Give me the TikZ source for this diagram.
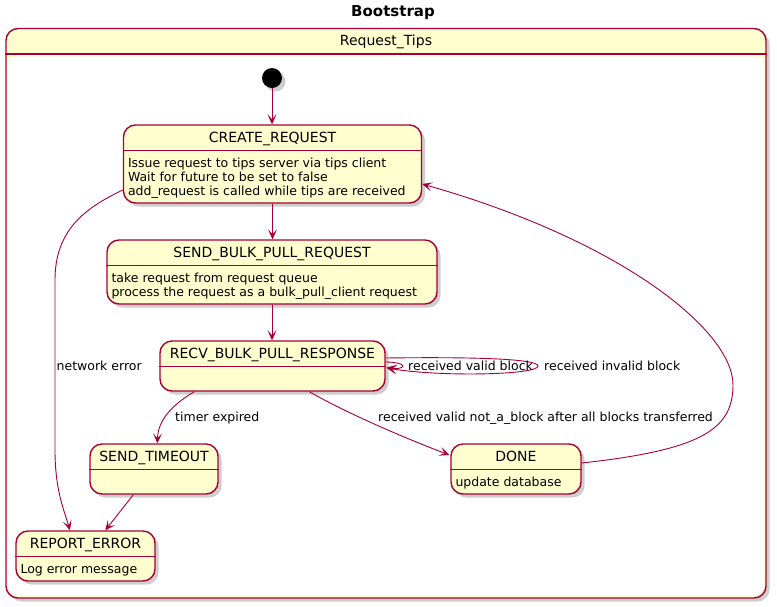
\documentclass[tikz,border=0pt]{standalone}
\usepackage{fontspec}
\setmainfont{DejaVu Sans}
\usetikzlibrary{arrows.meta,shadows,calc}
\definecolor{pcol}{HTML}{A80036}
\definecolor{pfill}{HTML}{FEFECE}
\tikzset{
  pshadow/.style={drop shadow={shadow xshift=3.5pt,shadow yshift=-3.5pt,fill=black!55,opacity=0.35}},
  statebox/.style={draw=pcol,fill=pfill,line width=1.4pt,rounded corners=12pt,inner sep=0pt,pshadow},
  stitle/.style={font=\fontsize{14}{16}\selectfont,inner sep=0pt,anchor=base},
  sbody/.style={font=\fontsize{12.5}{14}\selectfont,inner sep=0pt,align=left,anchor=base west},
  elabel/.style={font=\fontsize{12.5}{14}\selectfont,inner sep=0pt,anchor=base west},
  divider/.style={draw=pcol,line width=1.4pt},
  conn/.style={draw=pcol,line width=0.9pt,-{Stealth[length=10pt,width=9pt,inset=5pt]}},
}
\begin{document}
\begin{tikzpicture}[x=1pt,y=-1pt]
\useasboundingbox (0,0) rectangle (777,606);
% title
\node[font=\fontsize{15}{18}\selectfont\bfseries,inner sep=0pt,anchor=base] (title) at (393,16.5) {Bootstrap};
% container
\node[draw=pcol,fill=pfill,line width=1.4pt,rounded corners=12pt,inner sep=0pt,pshadow,
      minimum width=760pt,minimum height=569.5pt] (tips) at (386,313.25) {};
\fill[white,rounded corners=10pt] ($(tips.north west)+(2.5,28.5)$) rectangle ($(tips.south east)+(-2.5,-2.5)$);
\draw[divider] ($(tips.north west)+(0,26)$) -- ($(tips.north east)+(0,26)$);
\node[stitle] (tipsT) at ($(tips.north)+(0,18)$) {Request\_Tips};
% initial
\node[circle,fill=black,minimum size=20pt,inner sep=0pt,pshadow] (init) at (272,78) {};
% states
\node[statebox,minimum width=298pt,minimum height=78pt] (create) at (272.5,164) {};
\node[statebox,minimum width=330pt,minimum height=64pt] (sendreq) at (272,272) {};
\node[statebox,minimum width=225pt,minimum height=50pt] (recv) at (272.5,366) {};
\node[statebox,minimum width=128pt,minimum height=50pt] (timeout) at (154,469) {};
\node[statebox,minimum width=130pt,minimum height=50pt] (done) at (516,469) {};
\node[statebox,minimum width=139pt,minimum height=50pt] (report) at (85.5,556) {};
% dividers
\foreach \s in {create,sendreq,recv,timeout,done,report}{
  \draw[divider] ($(\s.north west)+(0,26)$) -- ($(\s.north east)+(0,26)$);
}
% titles
\node[stitle] (createT) at ($(create.north)+(0,18)$) {CREATE\_REQUEST};
\node[stitle] (sendreqT) at ($(sendreq.north)+(0,18)$) {SEND\_BULK\_PULL\_REQUEST};
\node[stitle] (recvT) at ($(recv.north)+(0,18)$) {RECV\_BULK\_PULL\_RESPONSE};
\node[stitle] (timeoutT) at ($(timeout.north)+(0,18)$) {SEND\_TIMEOUT};
\node[stitle] (doneT) at ($(done.north)+(0,18)$) {DONE};
\node[stitle] (reportT) at ($(report.north)+(0,18)$) {REPORT\_ERROR};
% bodies (base anchor = baseline of last line)
\node[sbody] (createB) at ($(create.north west)+(5,71)$) {Issue request to tips server via tips client\\Wait for future to be set to false\\add\_request is called while tips are received};
\node[sbody] (sendreqB) at ($(sendreq.north west)+(5,57)$) {take request from request queue\\process the request as a bulk\_pull\_client request};
\node[sbody] (doneB) at ($(done.north west)+(5,43)$) {update database};
\node[sbody] (reportB) at ($(report.north west)+(5,43)$) {Log error message};
% connectors
\draw[conn] (init) -- (init |- create.north);
\draw[conn] (create.south) -- (sendreq.north -| create.south);
\draw[conn] (sendreq.south) -- (recv.north -| sendreq.south);
\draw[conn] ($(create.west)+(0,26)$) .. controls (85,208) and (55,230) .. (55,280)
   -- (55,450) .. controls (55,490) and (64,510) .. ($(report.north)+(-15.5,0)$);
\draw[conn] ($(recv.south west)+(35,0)$) .. controls (172,405) and (158,420) .. ($(timeout.north west)+(68,0)$);
\draw[conn] ($(timeout.south west)+(44,0)$) -- ($(report.north west)+(90,0)$);
\draw[conn] ($(recv.south west)+(150,0)$) .. controls (350,415) and (410,440) .. ($(done.west)+(-1,-14)$);
\draw[conn] ($(done.east)+(0,-6)$) .. controls (700,450) and (733,430) .. (733,385)
   .. controls (733,330) and (620,240) .. ($(create.east)+(0,20)$);
% self loops
\draw[conn] ($(recv.east)+(0,-4)$) .. controls (395,362) and (403,364) .. (403,366)
   .. controls (403,368.5) and (395,369) .. ($(recv.east)+(1,1.5)$);
\draw[conn] ($(recv.east)+(0,-8)$) .. controls (460,357) and (538,358) .. (538,366)
   .. controls (538,375) and (440,377) .. ($(recv.east)+(1,2)$);
% labels
\node[elabel] (lnet) at (56.5,370.5) {network error};
\node[elabel] (ltimer) at (175,421) {timer expired};
\node[elabel] (ldone) at (378,421) {received valid not\_a\_block after all blocks transferred};
\node[elabel] (lvalid) at (408,370.5) {received valid block};
\node[elabel] (linvalid) at (544,370.5) {received invalid block};
\end{tikzpicture}
\end{document}
